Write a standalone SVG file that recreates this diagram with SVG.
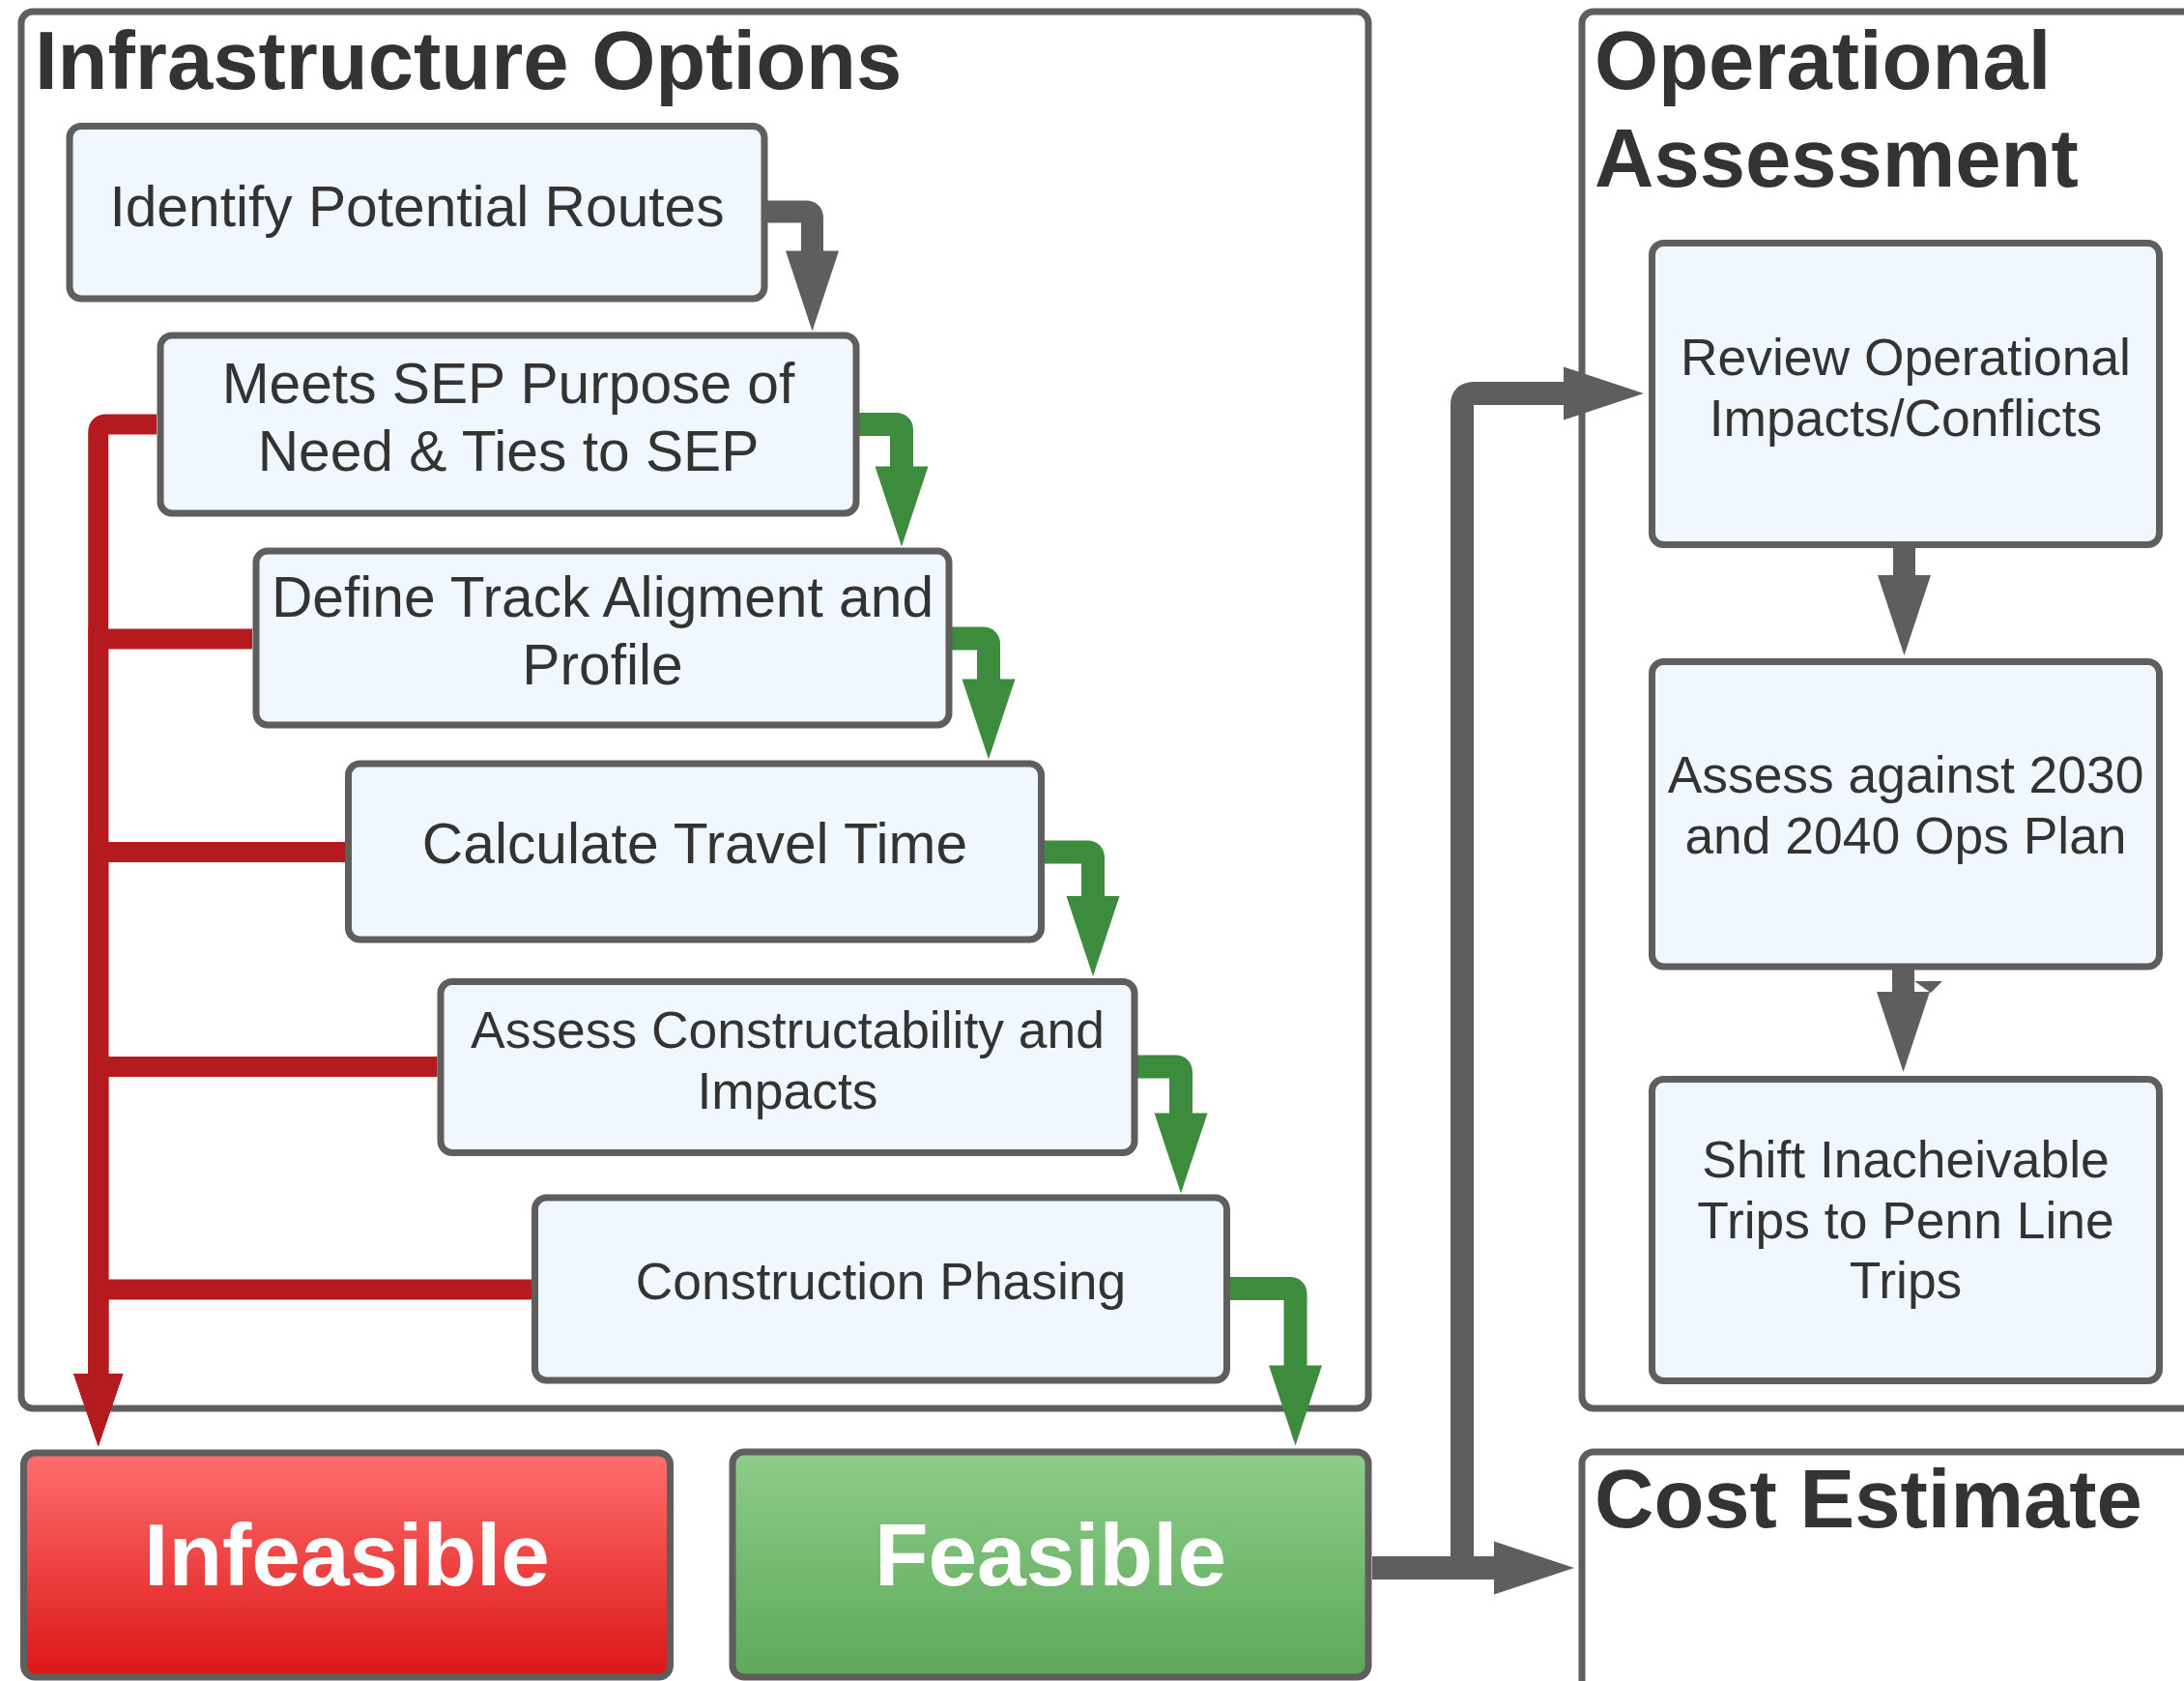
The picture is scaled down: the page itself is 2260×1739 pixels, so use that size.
<svg xmlns="http://www.w3.org/2000/svg" width="2260" height="1739" viewBox="0 0 2260 1739">
  <style>
    .container { fill: #ffffff; stroke: #5e5e5e; stroke-width: 7; }
    .node { fill: #f0f7ff; stroke: #5e5e5e; stroke-width: 7; }
    .title { font-family: "Liberation Sans", Arial, sans-serif; font-weight: bold; font-size: 85px; fill: #333333; }
    .lbl { font-family: "Liberation Sans", Arial, sans-serif; font-size: 58.7px; fill: #333333; text-anchor: middle; }
    .lbl-s { font-family: "Liberation Sans", Arial, sans-serif; font-size: 53.4px; fill: #333333; text-anchor: middle; }
    .result { font-family: "Liberation Sans", Arial, sans-serif; font-weight: bold; font-size: 91px; fill: #ffffff; text-anchor: middle; }
    .gray { fill: none; stroke: #5e5e5e; stroke-width: 23; }
    .gray-big { fill: none; stroke: #5e5e5e; stroke-width: 24; }
    .green { fill: none; stroke: #3d8b3d; stroke-width: 24; }
    .red { fill: none; stroke: #b51b1e; stroke-width: 21; }
  </style>
  <defs>
    <linearGradient id="gradRed" x1="0" y1="0" x2="0" y2="1">
      <stop offset="0" stop-color="#ff6e6e"/>
      <stop offset="1" stop-color="#dc1616"/>
    </linearGradient>
    <linearGradient id="gradGreen" x1="0" y1="0" x2="0" y2="1">
      <stop offset="0" stop-color="#8dcd8a"/>
      <stop offset="1" stop-color="#5ca958"/>
    </linearGradient>
    <marker id="ahGray" markerUnits="userSpaceOnUse" markerWidth="90" markerHeight="60" viewBox="0 -30 90 60" refX="1" refY="0" orient="auto" overflow="visible">
      <path d="M0,-27.5 L83,0 L0,27.5 Z" fill="#5e5e5e"/>
    </marker>
    <marker id="ahGreen" markerUnits="userSpaceOnUse" markerWidth="90" markerHeight="60" viewBox="0 -30 90 60" refX="1" refY="0" orient="auto" overflow="visible">
      <path d="M0,-27.5 L83,0 L0,27.5 Z" fill="#3d8b3d"/>
    </marker>
    <marker id="ahRed" markerUnits="userSpaceOnUse" markerWidth="80" markerHeight="60" viewBox="0 -30 80 60" refX="1" refY="0" orient="auto" overflow="visible">
      <path d="M0,-25.5 L75,0 L0,25.5 Z" fill="#b51b1e"/>
    </marker>
  </defs>

  <rect width="2260" height="1739" fill="#ffffff"/>

  <!-- Swimlane containers -->
  <g id="infrastructure-options">
    <rect class="container" x="22" y="12" width="1394" height="1445" rx="12"/>
    <text class="title" x="36" y="92">Infrastructure Options</text>
  </g>
  <g id="operational-assessment">
    <rect class="container" x="1637" y="12" width="700" height="1445" rx="12"/>
    <text class="title" x="1650" y="92">Operational</text>
    <text class="title" x="1650" y="193">Assessment</text>
  </g>
  <g id="cost-estimate">
    <rect class="container" x="1637" y="1502" width="700" height="300" rx="12"/>
    <text class="title" x="1650" y="1580">Cost Estimate</text>
  </g>

  <!-- Connectors -->
  <g id="connectors">
    <!-- rejection paths to Infeasible -->
    <path class="red" d="M162,439 H110 Q101.7,439 101.7,447 V1422" marker-end="url(#ahRed)"/>
    <path class="red" d="M261,661 H101.7 V1422" marker-end="url(#ahRed)"/>
    <path class="red" d="M357,881.5 H101.7 V1422" marker-end="url(#ahRed)"/>
    <path class="red" d="M452.5,1103.5 H101.7 V1422" marker-end="url(#ahRed)"/>
    <path class="red" d="M550,1334 H101.7 V1422" marker-end="url(#ahRed)"/>

    <!-- step-down flow through the screening steps -->
    <path class="gray" d="M794,219 H834 Q840.5,219 840.5,225.5 V260.5" marker-end="url(#ahGray)"/>
    <path class="green" d="M889,439 H927 Q933,439 933,445 V483.5" marker-end="url(#ahGreen)"/>
    <path class="green" d="M985,660.5 H1017 Q1023,660.5 1023,666.5 V703.5" marker-end="url(#ahGreen)"/>
    <path class="green" d="M1080.5,881.5 H1125 Q1131,881.5 1131,887.5 V928" marker-end="url(#ahGreen)"/>
    <path class="green" d="M1177,1103.5 H1216 Q1222,1103.5 1222,1109.5 V1152.5" marker-end="url(#ahGreen)"/>
    <path class="green" d="M1272.5,1333 H1334.5 Q1340.5,1333 1340.5,1339 V1413.5" marker-end="url(#ahGreen)"/>

    <!-- Feasible to the next stages -->
    <path class="gray-big" d="M1420,1622 H1547" marker-end="url(#ahGray)"/>
    <path class="gray-big" d="M1420,1622 H1513 V419 Q1513,407 1525,407 H1619" marker-end="url(#ahGray)"/>

    <!-- operational assessment sequence -->
    <path class="gray" d="M1970.5,566 V596" marker-end="url(#ahGray)"/>
    <path class="gray" d="M1969.5,1002 V1027" marker-end="url(#ahGray)"/>
    <polygon points="1981,1015 2010,1015 1998,1027" fill="#5e5e5e"/>
  </g>

  <!-- Screening steps -->
  <g id="identify-routes">
    <rect class="node" x="72" y="130.5" width="719" height="178.5" rx="12"/>
    <text class="lbl" x="431.5" y="234">Identify Potential Routes</text>
  </g>
  <g id="meets-sep">
    <rect class="node" x="166" y="347" width="720" height="184" rx="12"/>
    <text class="lbl" x="526" y="417">Meets SEP Purpose of</text>
    <text class="lbl" x="526" y="487">Need &amp; Ties to SEP</text>
  </g>
  <g id="define-alignment">
    <rect class="node" x="265" y="570" width="717" height="180" rx="12"/>
    <text class="lbl" x="623.5" y="637.5">Define Track Aligment and</text>
    <text class="lbl" x="623.5" y="707.5">Profile</text>
  </g>
  <g id="travel-time">
    <rect class="node" x="360.5" y="790" width="717" height="182" rx="12"/>
    <text class="lbl" x="719" y="893">Calculate Travel Time</text>
  </g>
  <g id="constructability">
    <rect class="node" x="456" y="1015.5" width="718" height="177" rx="12"/>
    <text class="lbl-s" x="815" y="1084">Assess Constructability and</text>
    <text class="lbl-s" x="815" y="1147">Impacts</text>
  </g>
  <g id="construction-phasing">
    <rect class="node" x="553.5" y="1239" width="716" height="189" rx="12"/>
    <text class="lbl-s" x="911.5" y="1344">Construction Phasing</text>
  </g>

  <!-- Outcomes -->
  <g id="infeasible">
    <rect x="24.5" y="1503" width="669" height="232" rx="12" fill="url(#gradRed)" stroke="#5e5e5e" stroke-width="7"/>
    <text class="result" x="359" y="1640">Infeasible</text>
  </g>
  <g id="feasible">
    <rect x="758" y="1502" width="658" height="233" rx="12" fill="url(#gradGreen)" stroke="#5e5e5e" stroke-width="7"/>
    <text class="result" x="1087" y="1640">Feasible</text>
  </g>

  <!-- Operational steps -->
  <g id="review-impacts">
    <rect class="node" x="1709.5" y="251.5" width="525" height="312" rx="12"/>
    <text class="lbl-s" x="1972" y="387.5">Review Operational</text>
    <text class="lbl-s" x="1972" y="451">Impacts/Conflicts</text>
  </g>
  <g id="ops-plan">
    <rect class="node" x="1709.5" y="684.5" width="525" height="315.5" rx="12"/>
    <text class="lbl-s" x="1972" y="820">Assess against 2030</text>
    <text class="lbl-s" x="1972" y="883">and 2040 Ops Plan</text>
  </g>
  <g id="shift-trips">
    <rect class="node" x="1709.5" y="1116.5" width="525" height="312" rx="12"/>
    <text class="lbl-s" x="1972" y="1218">Shift Inacheivable</text>
    <text class="lbl-s" x="1972" y="1281">Trips to Penn Line</text>
    <text class="lbl-s" x="1972" y="1343">Trips</text>
  </g>
</svg>
